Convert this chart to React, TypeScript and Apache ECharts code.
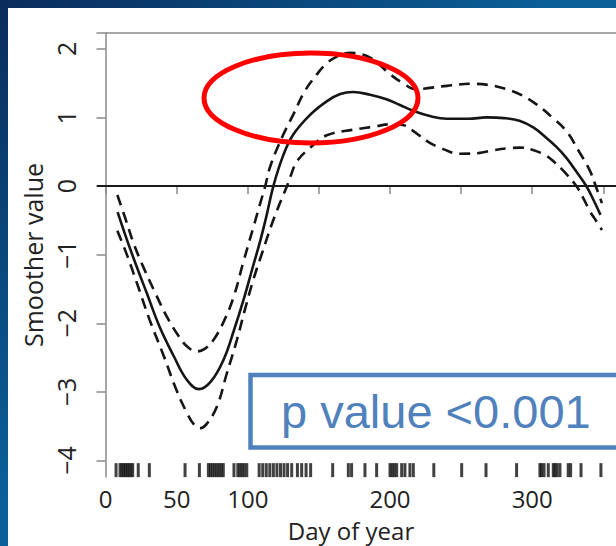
import React, { useEffect, useRef } from 'react';
import * as echarts from 'echarts';

const fitDays = [8.5, 15, 22, 29, 38, 48, 57, 65.5, 74, 83, 90, 97, 103, 109, 113, 118, 125, 132, 144, 156, 165, 174, 186, 198, 207, 216, 228, 240, 255, 268, 280, 291, 301, 310, 317, 324, 331, 338, 343, 348];
const fitVals = [-0.38, -0.78, -1.18, -1.56, -2.05, -2.48, -2.82, -2.96, -2.85, -2.53, -2.12, -1.66, -1.22, -0.78, -0.45, 0, 0.45, 0.75, 1.04, 1.24, 1.34, 1.37, 1.33, 1.26, 1.18, 1.1, 1.02, 0.98, 0.98, 1.0, 0.99, 0.95, 0.85, 0.7, 0.57, 0.41, 0.21, 0, -0.2, -0.42];

const upperDays = [8.3, 13.9, 20, 27, 35, 43, 51.5, 58, 64.3, 70, 76, 83, 90, 97, 104.5, 108.8, 112.3, 116, 125, 132, 140, 148.7, 155.6, 164, 172, 180, 186, 193, 200, 209, 218, 228, 240, 258, 270, 282, 293, 303, 314, 324, 333, 340.6, 345, 349];
const upperVals = [-0.13, -0.47, -0.85, -1.2, -1.56, -1.9, -2.19, -2.35, -2.41, -2.37, -2.24, -1.98, -1.62, -1.1, -0.56, -0.25, 0, 0.3, 0.75, 1.04, 1.38, 1.63, 1.79, 1.9, 1.94, 1.92, 1.87, 1.76, 1.63, 1.5, 1.41, 1.43, 1.46, 1.49, 1.47, 1.41, 1.32, 1.19, 1.0, 0.8, 0.5, 0.22, -0.02, -0.25];

const lowerDays = [8.3, 15, 22, 31, 41, 50, 57.3, 62, 66.5, 71, 78.4, 85, 92.4, 98, 104, 110.5, 117, 122, 127.6, 130, 134.6, 144, 155.6, 174, 190, 200, 209, 215, 221, 228, 235, 249, 262, 272.6, 283, 291.4, 300, 310, 316, 322, 331, 336, 340.6, 345, 349];
const lowerVals = [-0.65, -1.0, -1.41, -1.95, -2.48, -2.98, -3.31, -3.47, -3.53, -3.47, -3.21, -2.75, -2.24, -1.8, -1.36, -0.95, -0.55, -0.28, 0, 0.14, 0.36, 0.56, 0.74, 0.82, 0.87, 0.9, 0.89, 0.82, 0.73, 0.63, 0.56, 0.47, 0.48, 0.52, 0.55, 0.56, 0.53, 0.44, 0.34, 0.22, 0, -0.18, -0.37, -0.51, -0.64];

const rugDays = [7.4, 10.2, 11.5, 12.8, 14, 15.3, 16.5, 17.8, 19.1, 23, 30.8, 55.9, 66, 72.3, 73.8, 75.3, 76.8, 78.3, 79.8, 81.3, 82.8, 90.3, 93, 94.5, 96, 97.5, 99.3, 108, 110.5, 113, 115.5, 118, 120.5, 123, 125.5, 128, 130.9, 134.9, 137.9, 141, 144.2, 159.7, 170.7, 173, 182.4, 190.6, 200, 201.5, 203, 204.7, 208.2, 210.5, 214, 216.4, 230.8, 250.4, 267.5, 289, 305.4, 306.5, 308.3, 311.3, 314.8, 316, 317.5, 319.5, 325.3, 327, 334.3, 348.3];
const rugLevel = -4.14;

const xTickValues = [0, 50, 100, 150, 200, 250, 300, 350];
const xLabelValues = [0, 50, 100, 200, 300];
const yTickValues = [-4, -3, -2, -1, 0, 1, 2];

const pair = (xs: number[], ys: number[]) => xs.map((x, i) => [x, ys[i]]);

export default function App() {
  const ref = useRef<HTMLDivElement>(null);
  useEffect(() => {
    if (!ref.current) return;
    const chart = echarts.init(ref.current, undefined, { renderer: 'svg' });
    const font = 'Open Sans';
    const axisGray = '#8a8a8a';
    const dash = [11, 7];
    chart.setOption({
      animation: false,
      backgroundColor: new echarts.graphic.LinearGradient(0, 0, 1, 1, [
        { offset: 0, color: '#0a2c5c' },
        { offset: 0.45, color: '#0a5f97' },
        { offset: 1, color: '#0b74ad' },
      ]),
      graphic: [
        { type: 'rect', z: -10, shape: { x: 8, y: 8, width: 620, height: 550 }, style: { fill: '#ffffff' } },
        { type: 'ellipse', z: 100, shape: { cx: 311, cy: 98, rx: 107, ry: 45 }, style: { fill: 'none', stroke: '#ff0000', lineWidth: 5 } },
        { type: 'rect', z: 100, shape: { x: 250.5, y: 375, width: 420, height: 72.5 }, style: { fill: '#ffffff', stroke: '#4f81bd', lineWidth: 4.5 } },
        { type: 'text', z: 101, x: 281, y: 411, style: { text: 'p value <0.001', fill: '#4f81bd', fontSize: 47, fontFamily: 'Liberation Sans', textAlign: 'left', textVerticalAlign: 'middle' } },
      ],
      grid: { left: 97, top: 33, right: -1, bottom: 69, containLabel: false, outerBoundsMode: 'none' },
      xAxis: [
        {
          type: 'value', min: -6, max: 359.6, position: 'bottom',
          name: 'Day of year', nameLocation: 'middle', nameGap: 40,
          nameTextStyle: { fontSize: 24, lineHeight: 26, color: '#222', fontFamily: font, padding: [0, 12, 0, 0] },
          axisLine: { show: true, lineStyle: { color: axisGray, width: 1.5 } },
          axisTick: { show: true, length: 8, customValues: xTickValues, lineStyle: { color: axisGray, width: 1.5 } },
          axisLabel: { customValues: xLabelValues, fontSize: 24, lineHeight: 26, color: '#222', fontFamily: font, margin: 8 },
          splitLine: { show: false },
        },
        {
          type: 'value', min: -6, max: 359.6, position: 'top',
          axisLine: { show: true, lineStyle: { color: axisGray, width: 1.5 } },
          axisTick: { show: false }, axisLabel: { show: false }, splitLine: { show: false },
        },
      ],
      yAxis: {
        type: 'value', min: -4.24, max: 2.23,
        name: 'Smoother value', nameLocation: 'middle', nameGap: 50,
        nameTextStyle: { fontSize: 25, color: '#222', fontFamily: font },
        axisLine: { show: true, lineStyle: { color: axisGray, width: 1.5 } },
        axisTick: { show: true, length: 9, customValues: yTickValues, lineStyle: { color: axisGray, width: 1.5 } },
        axisLabel: {
          customValues: yTickValues, rotate: 90, fontSize: 25, color: '#222', fontFamily: font, margin: 19,
          formatter: (v: number) => (v < 0 ? '\u2212' + Math.abs(v) : String(v)),
        },
        splitLine: { show: false },
      },
      series: [
        {
          type: 'line', data: pair(fitDays, fitVals), smooth: 0.4, symbol: 'none',
          lineStyle: { color: '#151515', width: 2.6 },
          markLine: {
            silent: true, symbol: ['none', 'none'], label: { show: false },
            lineStyle: { color: '#1a1a1a', width: 1.8, type: 'solid' },
            data: [{ yAxis: 0 }],
          },
        },
        { type: 'line', data: pair(upperDays, upperVals), smooth: 0.4, symbol: 'none', lineStyle: { color: '#151515', width: 2.6, type: dash } },
        { type: 'line', data: pair(lowerDays, lowerVals), smooth: 0.4, symbol: 'none', lineStyle: { color: '#151515', width: 2.6, type: dash } },
        {
          type: 'scatter', data: rugDays.map((d) => [d, rugLevel]), symbol: 'rect', symbolSize: [3, 14],
          itemStyle: { color: '#111111' },
        },
      ],
    });
    return () => chart.dispose();
  }, []);
  return <div ref={ref} style={{ position: 'fixed', left: 0, top: 0, width: 616, height: 546 }} />;
}
